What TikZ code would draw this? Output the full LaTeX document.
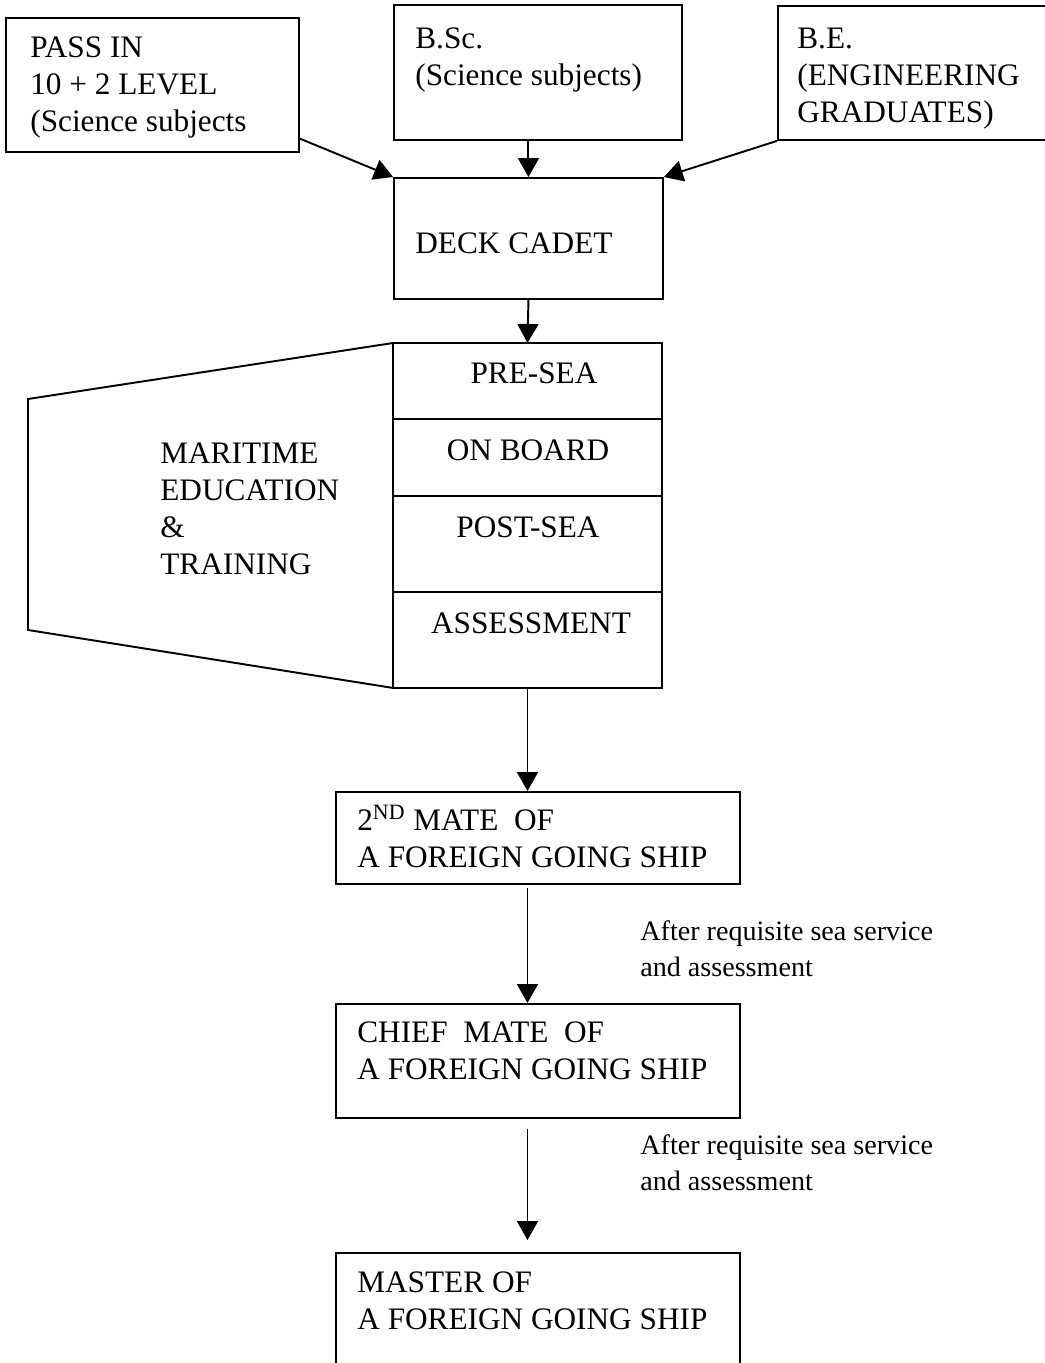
\documentclass[tikz,border=0pt]{standalone}
\usepackage{fontspec}
\setmainfont{Liberation Serif}
\usetikzlibrary{positioning,arrows.meta}

\begin{document}
\begin{tikzpicture}[x=0.02cm,y=-0.02cm]
        \tikzstyle{every node}=[font=\fontsize{17.8}{21}\selectfont]
        \tikzstyle{box}=[draw,line width=1.1pt,inner sep=0pt,anchor=north west]
        \tikzstyle{cell}=[draw,line width=1.1pt,inner sep=0pt,outer sep=0pt,minimum width=5.38cm]
        \tikzstyle{txt}=[inner sep=0pt,anchor=base west,align=left]
        \tikzstyle{mid}=[inner sep=0pt,anchor=base]
        \tikzstyle{note}=[txt,font=\fontsize{16}{20}\selectfont]
        \tikzstyle{arr}=[line width=1.1pt,-{Triangle[length=0.38cm,width=0.42cm]}]

        \clip (0,0) rectangle (1045,1363);

        % entry qualifications (text nodes sit on their last baseline)
        \node[box,minimum width=5.86cm,minimum height=2.68cm] (pass) at (5,17) {};
        \node[box,minimum width=5.76cm,minimum height=2.70cm] (bsc) at (393,4) {};
        \node[box,minimum width=6cm,minimum height=2.68cm] (be) at (777,5) {};
        \node[txt] (passtxt) at (30,131) {PASS IN\\10 + 2 LEVEL\\(Science subjects};
        \node[txt] (bsctxt) at (415,85) {B.Sc.\\(Science subjects)};
        \node[txt] (betxt) at (797,122) {B.E.\\(ENGINEERING\\GRADUATES)};

        \node[box,minimum width=5.38cm,minimum height=2.42cm] (deck) at (393,177) {};
        \node[txt] (decktxt) at (415,253) {DECK CADET};

        % training stack
        \node[cell,minimum height=1.52cm,anchor=north west] (presea) at (393,343) {};
        \node[cell,minimum height=1.54cm,below=0pt of presea] (onboard) {};
        \node[cell,minimum height=1.92cm,below=0pt of onboard] (postsea) {};
        \node[cell,minimum height=1.92cm,below=0pt of postsea] (assess) {};
        \node[mid] (preseatxt) at (534,383) {PRE-SEA};
        \node[mid] (onboardtxt) at (528,460) {ON BOARD};
        \node[mid] (postseatxt) at (528,537) {POST-SEA};
        \node[mid] (assesstxt) at (531,633) {ASSESSMENT};

        \coordinate (mettop) at (28,399);
        \coordinate (metbot) at (28,630);
        \draw[line width=1.1pt] (presea.north west) -- (mettop) -- (metbot) -- (assess.south west);
        \node[txt] (mettxt) at (160,574) {MARITIME\\EDUCATION\\\&\\TRAINING};

        % ranks
        \node[box,minimum width=8.08cm,minimum height=1.84cm] (mate2) at (335,791) {};
        \node[box,minimum width=8.08cm,minimum height=2.28cm] (chief) at (335,1003) {};
        \node[box,minimum width=8.08cm,minimum height=3cm] (master) at (335,1252) {};
        \node[txt] (mate2txt) at (357,867) {2\textsuperscript{ND} MATE\ \ OF\\A FOREIGN GOING SHIP};
        \node[txt] (chieftxt) at (357,1079) {CHIEF\ \ MATE\ \ OF\\A FOREIGN GOING SHIP};
        \node[txt] (mastertxt) at (357,1329) {MASTER OF\\A FOREIGN GOING SHIP};
        \node[note] (noteone) at (640,976) {After requisite sea service\\and assessment};
        \node[note] (notetwo) at (640,1190) {After requisite sea service\\and assessment};

        \draw[arr] (pass.-20) -- (deck.north west);
        \draw[arr] (bsc.south -| deck.north) -- (deck.north);
        \draw[arr] (be.south west) -- (deck.north east);
        \draw[arr] (deck.south) -- (presea.north);
        \draw[arr] (assess.south) -- (assess.south |- mate2.north);
        \draw[arr,shorten <=0.06cm] (assess.south |- mate2.south) -- (assess.south |- chief.north);
        \draw[arr,shorten <=0.2cm,shorten >=0.24cm] (assess.south |- chief.south) -- (assess.south |- master.north);

    \end{tikzpicture}
\end{document}
